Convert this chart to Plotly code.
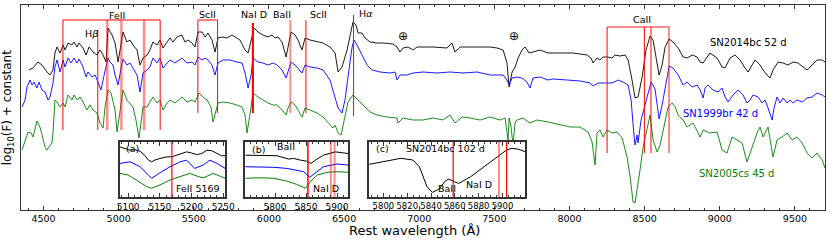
import plotly.graph_objects as go

# ---------------- main spectra (rest wavelength, log10 F + const) ----------------
wl_14bc = [4403,4430,4463,4490,4523,4543,4563,4576,4590,4610,4630,4643,4663,4689,4703,4723,4736,4763,4783,4803,
           4829,4856,4876,4896,4916,4929,4956,4976,4996,5022,5029,5055,5075,5095,5122,5142,5162,5189,5208,5228,
           5255,5275,5295,5322,5342,5362,5388,5421,5441,5461,5488,5508,5528,5555,5575,5594,5621,5641,5661,5688,
           5721,5754,5774,5807,5841,5861,5887,5901,5927,5960,5994,6020,6040,6060,6087,6114,6127,6147,6174,6193,
           6220,6240,6273,6320,6360,6406,6440,6460,6486,6520,6539,6559,6579,6593,6619,6639,6673,6719,6759,6826,
           6852,6872,6892,6926,6959,6985,7025,7092,7185,7218,7238,7272,7338,7405,7471,7518,7558,7584,7598,7618,
           7638,7658,7684,7704,7731,7757,7804,7857,7937,8024,8117,8143,8157,8183,8203,8223,8256,8283,8303,8336,
           8370,8390,8416,8436,8456,8483,8509,8536,8556,8583,8596,8616,8636,8663,8689,8723,8756,8782,8816,8849,
           8869,8889,8915,8935,8982,9015,9035,9068,9102,9135,9168,9188,9215,9235,9268,9288,9315,9334,9354,9388,
           9421,9454,9488,9521,9554,9581,9614,9647,9681,9700]
f_14bc = [1.40,1.42,1.48,1.45,1.38,1.35,1.40,1.57,1.63,1.57,1.65,1.60,1.67,1.65,1.68,1.63,1.67,1.62,1.55,1.63,
          1.58,1.55,1.60,1.55,1.48,1.82,1.75,1.67,1.48,1.73,1.78,1.68,1.70,1.65,1.60,1.45,1.52,1.55,1.60,1.68,
          1.65,1.70,1.62,1.68,1.72,1.68,1.73,1.75,1.68,1.70,1.67,1.63,1.78,1.78,1.73,1.77,1.70,1.58,1.72,1.73,
          1.72,1.75,1.73,1.70,1.60,1.57,1.73,1.82,1.78,1.75,1.73,1.75,1.72,1.73,1.68,1.53,1.63,1.78,1.75,1.70,
          1.60,1.72,1.70,1.68,1.67,1.63,1.57,1.38,1.43,1.60,1.73,1.88,1.85,1.77,1.77,1.72,1.68,1.67,1.67,1.66,
          1.63,1.58,1.62,1.63,1.60,1.63,1.63,1.63,1.62,1.67,1.58,1.63,1.63,1.63,1.63,1.62,1.60,1.47,1.23,1.38,
          1.43,1.52,1.60,1.63,1.57,1.58,1.60,1.57,1.57,1.57,1.55,1.52,1.47,1.52,1.50,1.53,1.53,1.52,1.55,1.54,
          1.55,1.50,1.30,1.12,1.13,1.33,1.60,1.74,1.70,1.43,1.35,1.45,1.63,1.71,1.68,1.62,1.53,1.52,1.55,1.53,
          1.48,1.47,1.53,1.57,1.52,1.43,1.42,1.52,1.55,1.50,1.42,1.38,1.45,1.50,1.45,1.40,1.35,1.32,1.40,1.48,
          1.47,1.45,1.48,1.47,1.43,1.40,1.45,1.50,1.50,1.48]

wl_99br = [4357,4377,4390,4410,4423,4437,4456,4470,4490,4510,4530,4543,4563,4576,4590,4610,4630,4643,4663,4683,
           4703,4723,4736,4763,4783,4796,4823,4843,4862,4882,4896,4916,4929,4942,4962,4976,4996,5016,5029,5055,
           5075,5095,5122,5142,5162,5189,5208,5228,5255,5275,5295,5322,5342,5375,5421,5455,5488,5508,5528,5555,
           5575,5594,5621,5641,5661,5694,5741,5787,5821,5841,5861,5881,5894,5927,5960,5994,6027,6054,6087,6114,
           6127,6147,6174,6193,6220,6240,6273,6320,6360,6406,6440,6460,6486,6506,6526,6553,6566,6586,6619,6653,
           6686,6739,6806,6839,6852,6872,6919,6959,7025,7118,7205,7292,7385,7471,7558,7584,7598,7618,7651,7684,
           7717,7737,7757,7804,7857,7890,7984,8070,8137,8157,8190,8250,8283,8323,8356,8390,8410,8423,8436,8450,
           8456,8476,8509,8543,8569,8596,8616,8636,8663,8689,8723,8756,8782,8816,8849,8869,8889,8902,8922,8955,
           8989,9015,9035,9055,9088,9122,9155,9181,9201,9221,9255,9281,9301,9321,9348,9361,9381,9401,9421,9448,
           9468,9488,9514,9548,9581,9614,9647,9681,9700]
f_99br = [1.03,1.10,1.23,1.30,1.25,1.28,1.22,1.28,1.20,1.18,1.10,1.13,1.27,1.43,1.50,1.38,1.50,1.43,1.52,1.47,
          1.52,1.47,1.51,1.43,1.33,1.38,1.33,1.35,1.28,1.20,1.30,1.45,1.52,1.48,1.45,1.35,1.25,1.42,1.51,1.45,
          1.47,1.42,1.35,1.18,1.37,1.40,1.43,1.52,1.47,1.52,1.42,1.47,1.50,1.47,1.52,1.47,1.48,1.45,1.53,1.50,
          1.52,1.50,1.45,1.35,1.47,1.50,1.50,1.48,1.47,1.37,1.22,1.35,1.52,1.48,1.47,1.45,1.47,1.45,1.40,1.32,
          1.38,1.48,1.45,1.42,1.37,1.45,1.43,1.42,1.40,1.30,1.13,1.02,0.97,1.10,1.33,1.63,1.70,1.65,1.55,1.45,
          1.40,1.38,1.37,1.38,1.30,1.35,1.35,1.37,1.38,1.37,1.38,1.37,1.38,1.35,1.35,1.30,1.25,1.32,1.33,1.32,
          1.28,1.22,1.32,1.33,1.30,1.31,1.30,1.29,1.27,1.24,1.27,1.27,1.27,1.30,1.28,1.25,1.10,0.85,0.65,0.75,
          0.67,0.90,1.10,1.28,1.21,0.91,1.05,1.21,1.44,1.42,1.35,1.25,1.28,1.23,1.25,1.20,1.12,1.22,1.25,1.20,
          1.18,1.22,1.13,1.08,1.15,1.20,1.15,1.07,1.10,1.15,1.13,1.07,1.10,1.02,0.90,1.02,1.13,1.07,1.12,1.07,
          1.10,1.07,1.10,1.08,1.12,1.13,1.17,1.15,1.13]

wl_05cs = [4357,4377,4397,4417,4430,4456,4476,4490,4510,4523,4556,4563,4576,4590,4610,4630,4643,4663,4689,4703,
           4723,4743,4763,4789,4809,4829,4856,4876,4896,4909,4929,4949,4976,4989,5016,5029,5055,5075,5095,5115,
           5135,5162,5189,5208,5228,5255,5275,5295,5322,5342,5375,5421,5455,5488,5508,5535,5561,5588,5614,5628,
           5661,5694,5741,5787,5821,5841,5854,5881,5894,5927,5960,5994,6027,6054,6087,6114,6127,6147,6174,6193,
           6220,6240,6273,6320,6360,6393,6426,6440,6460,6480,6500,6526,6559,6593,6626,6673,6719,6786,6852,6859,
           6892,6959,7025,7092,7158,7205,7238,7285,7338,7405,7471,7538,7571,7584,7591,7598,7611,7624,7638,7651,
           7691,7737,7784,7857,7937,8004,8070,8124,8150,8170,8183,8203,8223,8250,8283,8316,8350,8383,8403,8423,
           8436,8450,8469,8490,8516,8536,8556,8583,8603,8623,8656,8683,8703,8723,8756,8782,8822,8869,8889,8935,
           8982,9015,9048,9082,9115,9148,9181,9215,9248,9268,9288,9321,9354,9381,9414,9448,9481,9514,9548,9581,
           9614,9647,9681,9700]
f_05cs = [0.60,0.70,0.78,0.77,0.73,0.89,0.83,0.75,0.63,0.60,0.67,0.77,1.10,1.08,1.03,1.07,1.03,1.15,1.10,1.15,
          1.10,1.13,1.08,1.00,1.05,1.00,0.97,0.87,0.82,1.03,1.20,1.17,1.00,0.78,1.10,1.20,1.10,1.07,1.03,0.90,
          0.72,1.03,1.03,1.08,1.13,1.07,1.10,1.00,1.07,1.10,1.07,1.13,1.08,1.10,1.08,1.17,1.13,1.10,1.03,0.88,
          1.07,1.08,1.07,1.05,1.03,0.95,0.77,1.03,1.17,1.13,1.10,1.07,1.05,1.05,1.00,0.95,1.02,1.08,1.05,1.00,
          0.93,1.02,1.00,0.97,0.93,0.87,0.82,0.85,0.77,0.75,0.90,1.08,1.15,1.10,1.05,0.98,0.95,0.93,0.92,0.87,
          0.92,0.90,0.90,0.92,0.90,0.95,0.87,0.93,0.92,0.90,0.93,0.90,0.92,0.80,0.70,0.92,0.83,0.65,0.88,0.90,
          0.92,0.87,0.90,0.88,0.85,0.83,0.83,0.78,0.68,0.45,0.77,0.80,0.73,0.80,0.77,0.78,0.72,0.53,0.33,0.08,
          0.07,0.23,0.40,0.63,0.80,0.95,0.70,0.58,0.65,0.80,1.03,1.07,1.03,0.95,0.90,0.83,0.87,0.73,0.80,0.77,
          0.78,0.60,0.57,0.73,0.70,0.67,0.48,0.63,0.77,0.83,0.73,0.83,0.53,0.70,0.73,0.77,0.70,0.73,0.67,0.57,
          0.52,0.57,0.50,0.42]

# ---------------- inset (a): FeII 5169 ----------------
wl_a_14bc = [5087,5095,5103,5111,5119,5126,5132,5137,5142,5150,5161,5169,5176,5184,5192,5200,5208,5216,5224,5232,5240,5247,5253]
f_a_14bc = [0.91,0.88,0.85,0.86,0.83,0.76,0.67,0.64,0.67,0.70,0.73,0.73,0.76,0.79,0.82,0.80,0.77,0.79,0.85,0.84,0.79,0.75,0.75]
wl_a_99br = [5087,5103,5119,5132,5137,5150,5166,5182,5192,5205,5218,5229,5240,5253]
f_a_99br = [0.61,0.64,0.55,0.40,0.34,0.44,0.55,0.64,0.67,0.52,0.58,0.67,0.61,0.52]
wl_a_05cs = [5087,5100,5113,5129,5137,5150,5166,5182,5197,5211,5219,5234,5253]
f_a_05cs = [0.43,0.40,0.31,0.19,0.16,0.22,0.31,0.37,0.43,0.37,0.35,0.43,0.34]

# ---------------- inset (b): BaII / NaI D ----------------
wl_b_14bc = [5752,5803,5822,5830,5841,5852,5858,5865,5878,5897,5918]
f_b_14bc = [0.76,0.75,0.69,0.70,0.67,0.65,0.61,0.67,0.76,0.82,0.79]
wl_b_99br = [5752,5798,5819,5835,5846,5856,5862,5878,5900,5918]
f_b_99br = [0.55,0.54,0.52,0.49,0.46,0.36,0.41,0.55,0.60,0.58]
wl_b_05cs = [5752,5776,5798,5819,5835,5843,5849,5857,5868,5884,5900,5918]
f_b_05cs = [0.34,0.35,0.34,0.29,0.23,0.19,0.16,0.28,0.40,0.45,0.46,0.45]

# ---------------- inset (c): SN2014bc 102 d ----------------
wl_c_14bc = [5788,5803.6,5814.6,5824.7,5830.2,5833.9,5836.6,5841.2,5846.7,5852.2,5854.9,5859.5,5863.2,5873.3,
             5884.3,5892.5,5903.5,5908.1,5913.6,5919]
f_c_14bc = [0.594,0.655,0.703,0.673,0.552,0.339,0.188,0.085,0.145,0.297,0.327,0.279,0.248,0.370,0.552,0.673,
            0.855,0.885,0.867,0.824]

# ---------------- line identifications ----------------
feii_thin = [4629, 5276]
feii_thick = [4924, 5018, 5169]
hbeta = 4861
scii_a = [5527, 5658]
nad = [5890, 5896]
baii = 6142
scii_b = 6246
halpha = 6563
caii_thin = [8250, 8498, 8542]
caii_thick = [8662]
inset_a_lines = [5169]
inset_b_lines = [5853, 5890, 5896]
inset_c_lines = [5858.6, 5897.1, 5903.5]

FONT = "DejaVu Sans"
RED = "red"
PINK = "rgba(255,0,0,0.45)"

fig = go.Figure()

def spec(x, y, color, xa="x", ya="y", w=0.9):
    fig.add_trace(go.Scatter(x=x, y=y, mode="lines", xaxis=xa, yaxis=ya,
                             line=dict(color=color, width=w), showlegend=False, hoverinfo="skip"))

spec(wl_14bc, f_14bc, "black")
spec(wl_99br, f_99br, "blue")
spec(wl_05cs, f_05cs, "green")
spec(wl_a_14bc, f_a_14bc, "black", "x2", "y2", 1.0)
spec(wl_a_99br, f_a_99br, "blue", "x2", "y2", 1.0)
spec(wl_a_05cs, f_a_05cs, "green", "x2", "y2", 1.0)
spec(wl_b_14bc, f_b_14bc, "black", "x3", "y3", 1.0)
spec(wl_b_99br, f_b_99br, "blue", "x3", "y3", 1.0)
spec(wl_b_05cs, f_b_05cs, "green", "x3", "y3", 1.0)
spec(wl_c_14bc, f_c_14bc, "black", "x4", "y4", 1.0)

shapes = []
def vline(x, y0, y1, color=RED, w=1.0, xref="x", yref="y"):
    shapes.append(dict(type="line", x0=x, x1=x, y0=y0, y1=y1, xref=xref, yref=yref,
                       line=dict(color=color, width=w)))
def hline(x0, x1, y, color=RED, w=1.0):
    shapes.append(dict(type="line", x0=x0, x1=x1, y0=y, y1=y, xref="x", yref="y",
                       line=dict(color=color, width=w)))

# FeII group
hline(feii_thin[0], feii_thin[1], 1.90)
for w_ in feii_thin:
    vline(w_, 0.80, 1.90)
for w_ in feii_thick:
    vline(w_, 0.80, 1.90, PINK, 2.5)
vline(hbeta, 0.80, 1.80)
# ScII pair
hline(scii_a[0], scii_a[1], 1.90)
for w_ in scii_a:
    vline(w_, 0.97, 1.90)
for w_ in nad:
    vline(w_, 0.97, 1.87, RED, 1.2)
vline(baii, 0.97, 1.90, PINK, 2.0)
vline(scii_b, 0.97, 1.90)
vline(halpha, 0.94, 1.95)
# CaII
hline(caii_thin[0], caii_thick[0], 1.83, PINK, 2.0)
for w_ in caii_thin:
    vline(w_, 0.57, 1.83)
for w_ in caii_thick:
    vline(w_, 0.57, 1.83, PINK, 2.0)
# insets
for w_ in inset_a_lines:
    vline(w_, 0, 1, RED, 1.2, "x2", "y2")
vline(inset_b_lines[0], 0, 1, RED, 1.5, "x3", "y3")
for w_ in inset_b_lines[1:]:
    vline(w_, 0, 1, PINK, 2.0, "x3", "y3")
vline(inset_c_lines[0], 0, 1, RED, 1.2, "x4", "y4")
vline(inset_c_lines[1], 0, 1, PINK, 2.0, "x4", "y4")
vline(inset_c_lines[2], 0, 1, RED, 1.2, "x4", "y4")

ann = []
def label(x, y, text, color="black", size=9.5, xref="x", yref="y", xanchor="center"):
    ann.append(dict(x=x, y=y, xref=xref, yref=yref, text=text, showarrow=False,
                    font=dict(family=FONT, size=size, color=color), xanchor=xanchor, yanchor="middle"))

label(4990, 1.95, "FeII")
label(4816, 1.77, "H<i>β</i>")
label(5594, 1.96, "ScII")
label(5901, 1.96, "NaI D")
label(6087, 1.96, "BaII")
label(6327, 1.96, "ScII")
label(6646, 1.97, "H<i>α</i>")
label(6892, 1.74, "⊕", size=12)
label(7631, 1.74, "⊕", size=12)
label(8483, 1.91, "CaII")
label(9188, 1.68, "SN2014bc 52 d", "black", 10)
label(9002, 0.97, "SN1999br 42 d", "blue", 10)
label(9108, 0.37, "SN2005cs 45 d", "green", 10)
# inset labels
label(5094, 0.88, "(a)", xref="x2", yref="y2", xanchor="left")
label(5172, 0.16, "FeII 5169", xref="x2", yref="y2", xanchor="left")
label(5759, 0.86, "(b)", xref="x3", yref="y3", xanchor="left")
label(5817, 0.92, "BaII", xref="x3", yref="y3")
label(5882, 0.16, "NaI D", xref="x3", yref="y3")
label(5792, 0.88, "(c)", xref="x4", yref="y4", xanchor="left")
label(5852, 0.88, "SN2014bc 102 d", xref="x4", yref="y4")
label(5853, 0.16, "BaII", xref="x4", yref="y4")
label(5880, 0.22, "NaI D", xref="x4", yref="y4")
# axis titles
ann.append(dict(x=0.49, y=-0.10, xref="paper", yref="paper", text="Rest wavelength (Å)", showarrow=False,
                font=dict(family=FONT, size=13, color="black"), xanchor="center", yanchor="middle"))
ann.append(dict(x=-0.0165, y=0.5, xref="paper", yref="paper", text="log<sub>10</sub>(F) + constant",
                showarrow=False, textangle=-90, font=dict(family=FONT, size=12, color="black"),
                xanchor="center", yanchor="middle"))

AX = "#333333"
def xax(domain, rng, t0, dt, mdt, anchor, lw, fs):
    return dict(domain=domain, range=rng, anchor=anchor, tickmode="linear", tick0=t0, dtick=dt,
                ticks="inside", ticklen=4, tickwidth=1, tickcolor=AX, tickangle=0, automargin=False,
                minor=dict(dtick=mdt, tick0=t0, ticks="inside", ticklen=2, tickcolor=AX),
                showline=True, linecolor=AX, linewidth=lw, mirror="allticks", showgrid=False, zeroline=False,
                tickfont=dict(family=FONT, size=fs, color="black"))
def yax(domain, rng, anchor, lw):
    return dict(domain=domain, range=rng, anchor=anchor, showticklabels=False, ticks="", automargin=False,
                showline=True, linecolor=AX, linewidth=lw, mirror=True, showgrid=False, zeroline=False)

ydom = [0.063, 0.332]
fig.update_layout(
    width=831, height=242,
    margin=dict(l=21, r=6, t=5, b=32, autoexpand=False),
    paper_bgcolor="white", plot_bgcolor="white",
    font=dict(family=FONT, size=10, color="black"),
    xaxis=xax([0, 1], [4350, 9700], 4500, 500, 100, "y", 1, 9.5),
    yaxis=yax([0, 1], [0, 2.05], "x", 1),
    xaxis2=xax([0.123, 0.254], [5087, 5253], 5100, 50, 10, "y2", 1.5, 9),
    yaxis2=yax(ydom, [0, 1], "x2", 1.5),
    xaxis3=xax([0.279, 0.407], [5752, 5918], 5800, 50, 10, "y3", 1.5, 9),
    yaxis3=yax(ydom, [0, 1], "x3", 1.5),
    xaxis4=xax([0.433, 0.627], [5788, 5919], 5800, 20, 5, "y4", 1.5, 8.5),
    yaxis4=yax(ydom, [0, 1], "x4", 1.5),
    shapes=shapes, annotations=ann,
)

fig.write_html("out.html", include_plotlyjs=True, config={"displayModeBar": False},
               post_script="document.body.style.margin='0px';document.body.style.overflow='hidden';")
